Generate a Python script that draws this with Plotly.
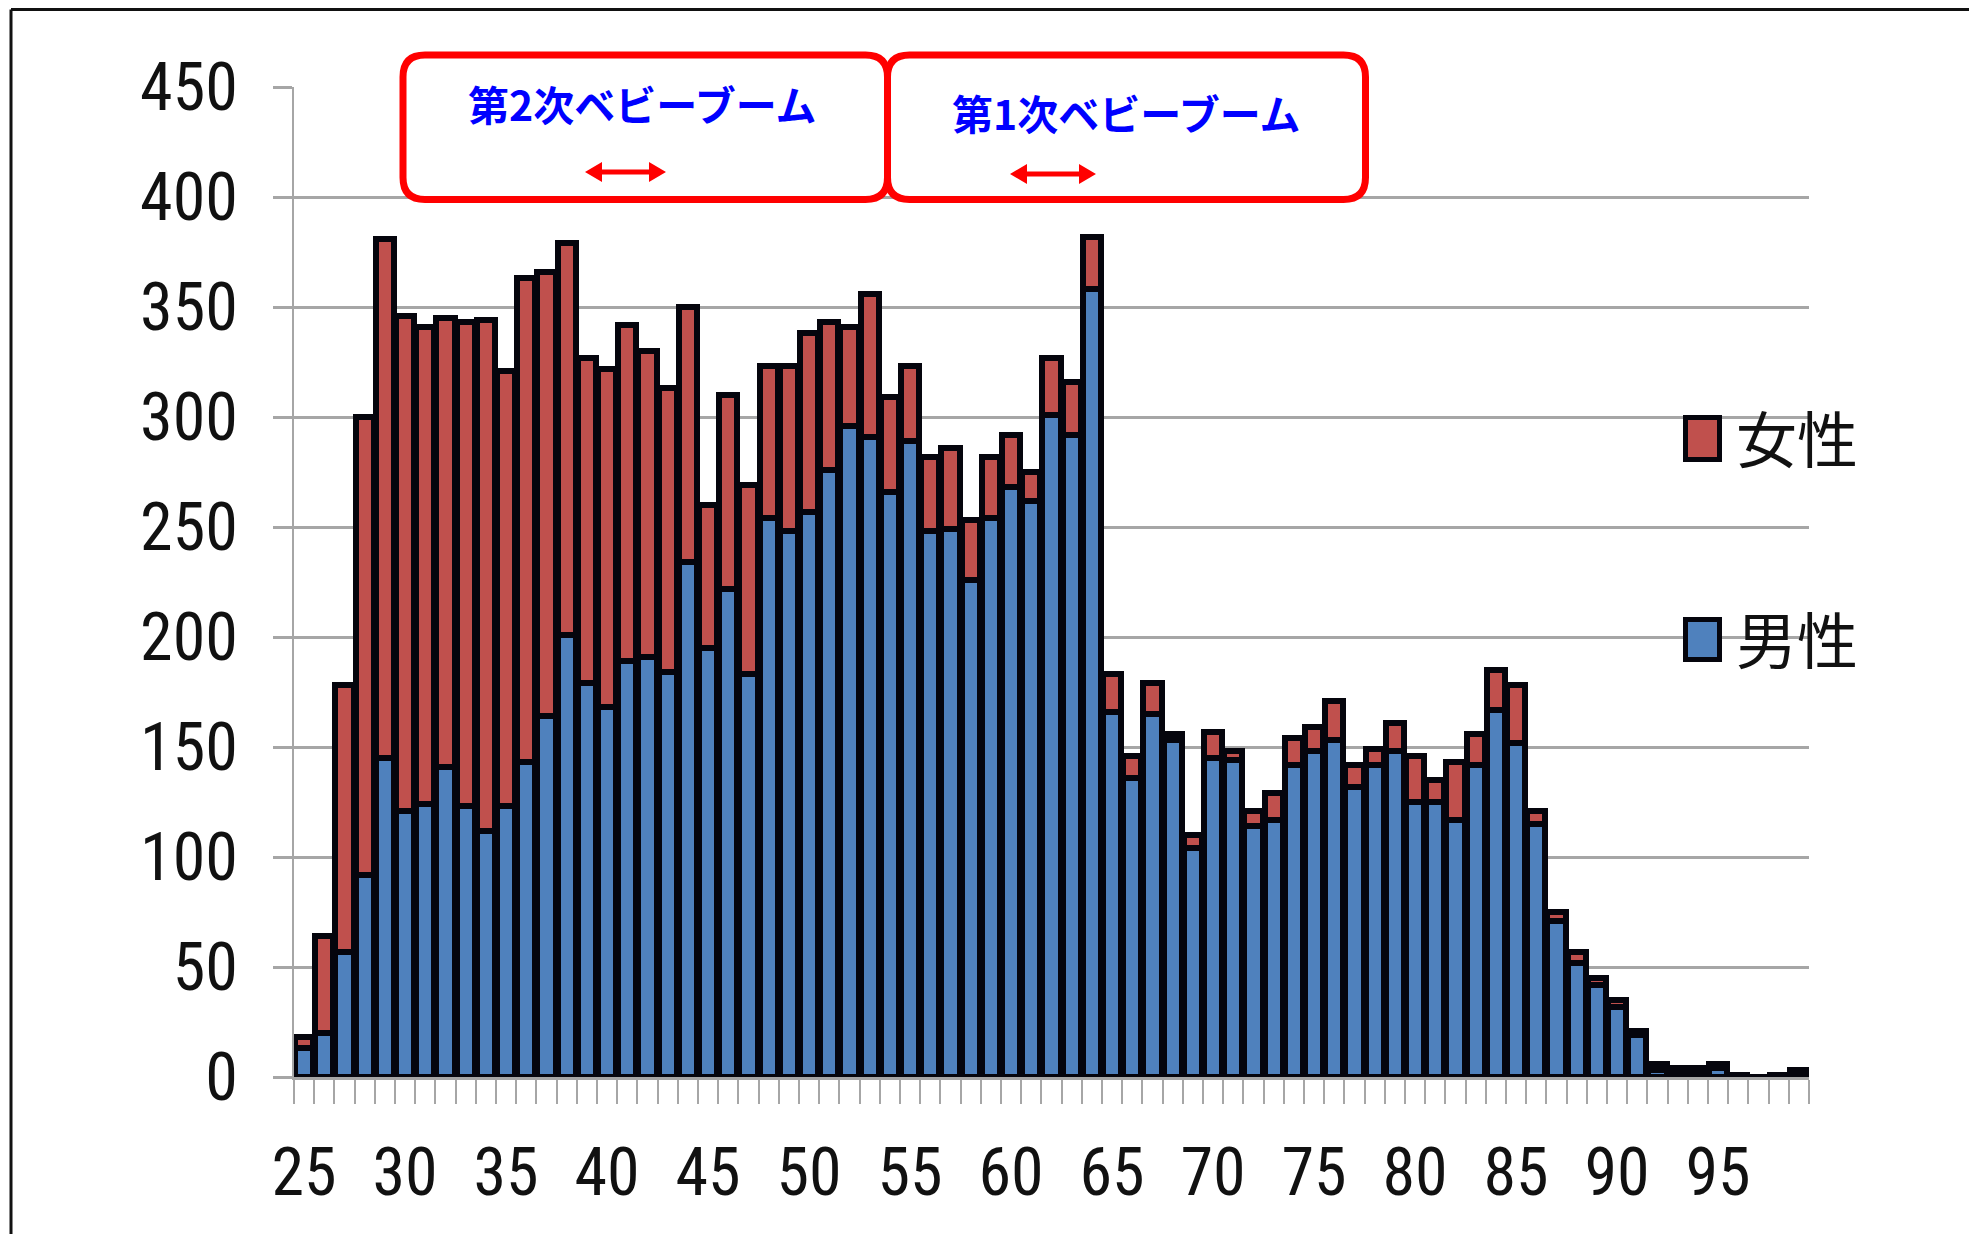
import plotly.graph_objects as go

ages = list(range(25, 100))

male = [13, 20, 57, 92, 145, 121, 124, 141, 123, 112,
        123, 143, 164, 201, 179, 168, 189, 191, 184, 234,
        195, 222, 183, 254, 248, 257, 276, 296, 291, 266,
        289, 248, 249, 226, 254, 268, 262, 301, 292, 358,
        166, 136, 165, 153, 104, 145, 144, 114, 117, 142,
        148, 153, 132, 142, 148, 125, 125, 117, 142, 167,
        152, 115, 71, 52, 42, 32, 19, 3, 2, 2,
        4, 1, 0, 1, 2]

female = [5, 44, 121, 208, 236, 225, 217, 204, 220, 232,
          198, 220, 202, 178, 148, 154, 153, 139, 129, 116,
          65, 88, 86, 69, 75, 81, 67, 45, 65, 43,
          34, 34, 37, 27, 28, 24, 13, 26, 24, 24,
          17, 10, 14, 3, 6, 12, 4, 7, 12, 12,
          11, 18, 10, 7, 13, 21, 10, 26, 14, 18,
          26, 6, 4, 5, 3, 3, 2, 3, 2, 2,
          2, 0, 0, 0, 1]

x_labels = list(range(25, 100, 5))
y_ticks = list(range(0, 451, 50))

booms = ["第2次ベビーブーム", "第1次ベビーブーム"]
legend_names = ["女性", "男性"]

RED = "#c0504d"
BLUE = "#4f81bd"
EDGE = "#05050d"
GRID = "#a6a6a6"
NUM_FONT = "Liberation Sans Narrow, Arial Narrow, Roboto Condensed, Liberation Sans, sans-serif"
JP_FONT = "Noto Sans CJK JP, sans-serif"

# plot area in page pixels (the page body adds an 8px offset)
OFF = 8
L, R, T, B = 294, 1809, 87, 1077
W, H = 1977, 1234


def px(x):
    return (x - L) / (R - L)


def py(y):
    return (B - y) / (B - T)


def pt(x, y):
    return f"{px(x):.5f},{py(y):.5f}"


def rounded_box(x0, y0, x1, y1, r):
    return (f"M{pt(x0 + r, y0)} L{pt(x1 - r, y0)} Q{pt(x1, y0)} {pt(x1, y0 + r)} "
            f"L{pt(x1, y1 - r)} Q{pt(x1, y1)} {pt(x1 - r, y1)} "
            f"L{pt(x0 + r, y1)} Q{pt(x0, y1)} {pt(x0, y1 - r)} "
            f"L{pt(x0, y0 + r)} Q{pt(x0, y0)} {pt(x0 + r, y0)} Z")


def double_arrow(x0, x1, y, half=2.5, head=17, hh=10):
    p = [(x0, y), (x0 + head, y - hh), (x0 + head, y - half), (x1 - head, y - half),
         (x1 - head, y - hh), (x1, y), (x1 - head, y + hh), (x1 - head, y + half),
         (x0 + head, y + half), (x0 + head, y + hh)]
    return "M" + " L".join(pt(a, b) for a, b in p) + " Z"


fig = go.Figure()
fig.add_trace(go.Bar(x=ages, y=male, name=legend_names[1], marker_color=BLUE,
                     marker_line=dict(color=EDGE, width=6)))
fig.add_trace(go.Bar(x=ages, y=female, name=legend_names[0], marker_color=RED,
                     marker_line=dict(color=EDGE, width=6)))

shapes = []
# outer frame (only top and left edges are visible)
frame_top = OFF + 1.5
shapes.append(dict(type="line", xref="paper", yref="paper", x0=px(11), x1=px(W + 20),
                   y0=py(frame_top), y1=py(frame_top), line=dict(color="#111111", width=3)))
shapes.append(dict(type="line", xref="paper", yref="paper", x0=px(11), x1=px(11),
                   y0=py(frame_top), y1=py(H + 20), line=dict(color="#111111", width=3)))

# baby boom boxes and arrows
for bx0, bx1 in [(403, 887.5), (887.5, 1365.5)]:
    shapes.append(dict(type="path", xref="paper", yref="paper",
                       path=rounded_box(bx0, 55, bx1, 199.5, 22),
                       line=dict(color="#ff0000", width=7), fillcolor="white"))
for ax0, ax1, ay in [(585, 666, 172), (1010, 1096, 174)]:
    shapes.append(dict(type="path", xref="paper", yref="paper",
                       path=double_arrow(ax0, ax1, ay),
                       line=dict(width=0), fillcolor="#ff0000"))

# legend squares
for ly0, ly1, col in [(417.5, 459.5, RED), (619.5, 659.5, BLUE)]:
    shapes.append(dict(type="rect", xref="paper", yref="paper",
                       x0=px(1685.5), x1=px(1719.5), y0=py(ly0), y1=py(ly1),
                       line=dict(color=EDGE, width=5), fillcolor=col))

annotations = []
for txt, cx, cy in [(booms[0], 642, 103), (booms[1], 1126, 112)]:
    annotations.append(dict(text=txt, xref="paper", yref="paper", x=px(cx), y=py(cy),
                            xanchor="center", yanchor="middle", showarrow=False,
                            font=dict(family=JP_FONT, size=41, color="#0000ff", weight=700)))
for txt, cy in [(legend_names[0], 436), (legend_names[1], 638)]:
    annotations.append(dict(text=txt, xref="paper", yref="paper", x=px(1734), y=py(cy),
                            xanchor="left", yanchor="middle", showarrow=False,
                            font=dict(family=JP_FONT, size=61, color="#111111")))

fig.update_layout(
    width=W, height=H,
    margin=dict(l=L - OFF, r=W - (R - OFF), t=T - OFF, b=H - (B - OFF)),
    paper_bgcolor="white", plot_bgcolor="white",
    barmode="stack", bargap=0.1,
    showlegend=False,
    shapes=shapes, annotations=annotations,
    font=dict(family=NUM_FONT, color="#111111"),
)
fig.update_xaxes(
    range=[24.5, 99.5], tickmode="array", tickvals=x_labels,
    ticks="outside", ticklen=24, tickcolor="rgba(0,0,0,0)",
    ticklabelstandoff=12,
    tickfont=dict(family=NUM_FONT, size=66, color="#111111"),
    showgrid=False, zeroline=False,
    showline=True, linecolor=GRID, linewidth=3,
    minor=dict(tick0=24.5, dtick=1, ticks="outside", ticklen=24,
               tickcolor=GRID, tickwidth=2, showgrid=False),
)
fig.update_yaxes(
    range=[0, 450], tickmode="array", tickvals=y_ticks,
    ticks="outside", ticklen=19, tickcolor=GRID, tickwidth=3,
    ticklabelstandoff=22,
    tickfont=dict(family=NUM_FONT, size=66, color="#111111"),
    showgrid=True, gridcolor=GRID, gridwidth=3, zeroline=False,
    showline=True, linecolor=GRID, linewidth=2,
)

fig.write_html("out.html")
